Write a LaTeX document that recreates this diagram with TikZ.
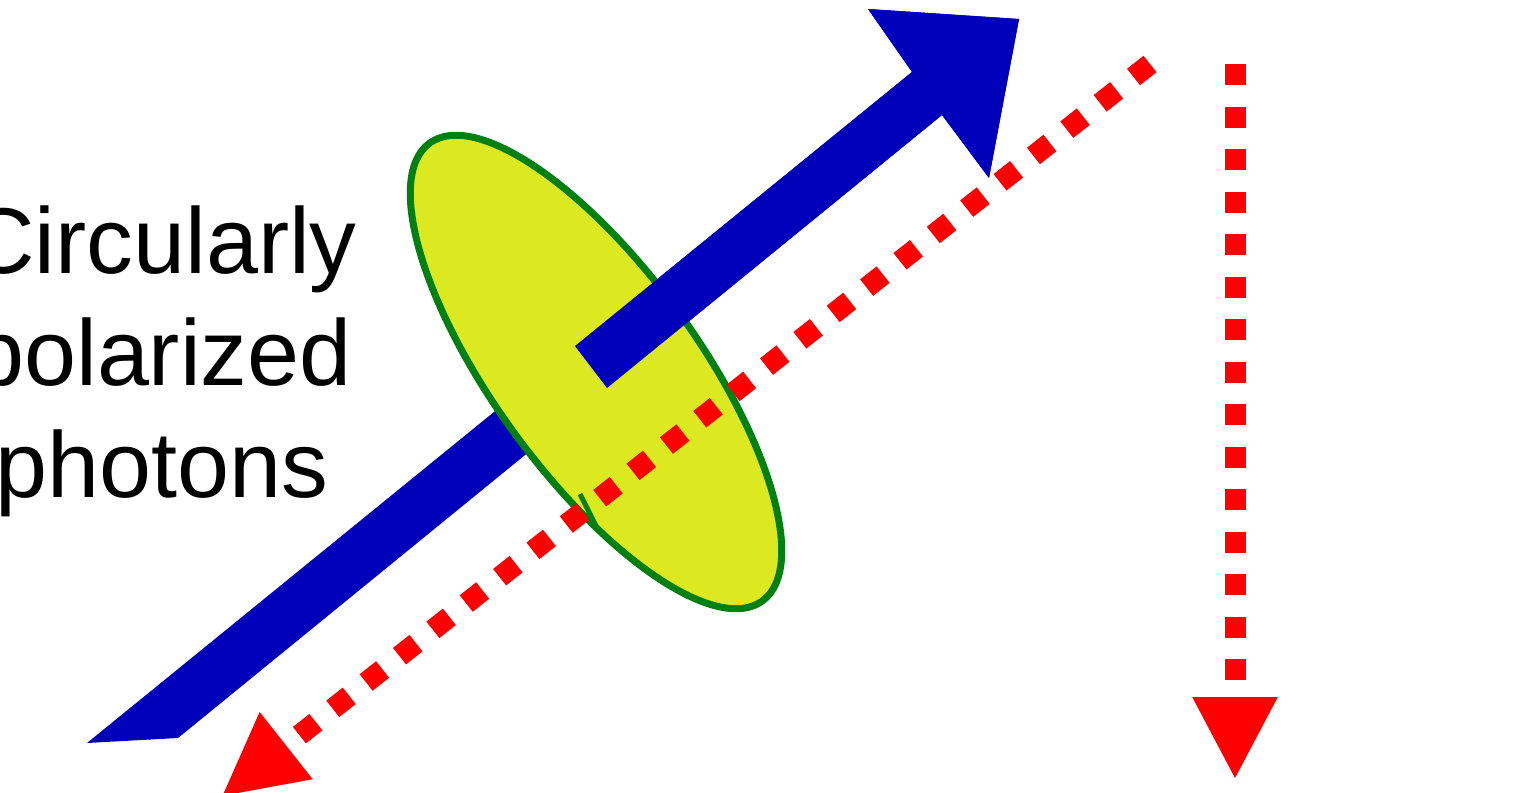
\documentclass[tikz,border=0pt]{standalone}
\usepackage{fontspec}
\setmainfont{Liberation Sans}
\usetikzlibrary{arrows.meta}
\definecolor{beamblue}{RGB}{0,0,187}
\definecolor{diskyellow}{RGB}{220,233,32}
\definecolor{diskgreen}{RGB}{0,128,16}
\begin{document}
\begin{tikzpicture}[x=1pt,y=-1pt,
    photon/.style={red,line width=21pt,dash pattern=on 21pt off 21.5pt,-{Triangle[length=83pt,width=79pt]}},
    every node/.style={font=\fontsize{93.5}{112}\selectfont}]
    \useasboundingbox (0,0) rectangle (1514,792);
    \clip (0,0) rectangle (1514,792);
    \coordinate (beamstart) at (1150,64);
    \coordinate (beamend) at (221,797);
    \coordinate (fallstart) at (1235,64);
    \coordinate (fallend) at (1235,780);
    \fill[beamblue] (87,743) -- (912,72) -- (868,9) -- (1019,19) -- (989,178) -- (942,115) -- (178,738) -- cycle;
    \draw[diskgreen,line width=7pt,fill=diskyellow] (596,372) ellipse [x radius=283pt,y radius=102pt,rotate=-54];
    \draw[diskgreen,line width=5pt] (580,494) -- (598,530);
    \fill[beamblue] (575,346) -- (912,72) -- (868,9) -- (1019,19) -- (989,178) -- (942,115) -- (607,388) -- cycle;
    \draw[photon] (beamstart) -- (beamend);
    \draw[photon] (fallstart) -- (fallend);
    \node[align=center,anchor=base] (label) at (162,497) {Circularly\\polarized\\photons};
\end{tikzpicture}
\end{document}
